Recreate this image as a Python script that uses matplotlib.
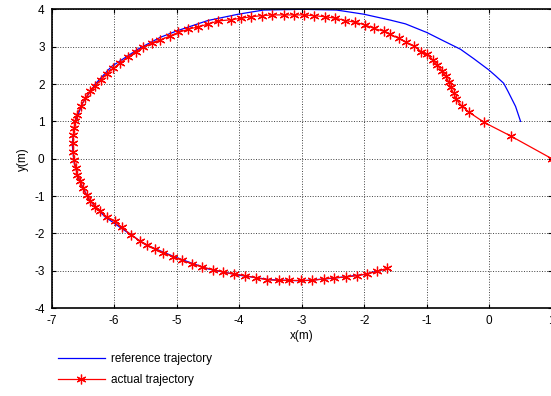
import matplotlib
matplotlib.use("Agg")
import matplotlib.pyplot as plt

plt.rcParams['font.family'] = ['Liberation Sans', 'DejaVu Sans']
plt.rcParams['axes.unicode_minus'] = False

# reference path (x, y in metres)
ref_x = [0.50, 0.42, 0.30, 0.23, 0.10, -0.01, -0.25, -0.46, -0.75, -1.00,
         -1.34, -1.58, -2.01, -2.44, -2.98, -3.61, -4.01, -4.50, -5.00, -5.26,
         -5.60, -6.04, -6.30, -6.50, -6.62, -6.67, -6.64, -6.55, -6.40, -6.15,
         -5.85, -5.50, -5.00, -4.50, -4.00, -3.50, -3.00, -2.50, -2.00, -1.70]
ref_y = [1.00, 1.40, 1.80, 2.02, 2.22, 2.38, 2.68, 2.93, 3.17, 3.38,
         3.61, 3.71, 3.87, 3.98, 4.00, 3.98, 3.87, 3.70, 3.42, 3.25,
         2.95, 2.47, 2.00, 1.50, 1.00, 0.40, -0.10, -0.60, -1.10, -1.55,
         -1.90, -2.30, -2.65, -2.95, -3.12, -3.24, -3.27, -3.20, -3.10, -2.97]

# measured path
act_x = [1.00, 0.34, -0.08, -0.32, -0.44, -0.53, -0.57, -0.62, -0.65, -0.70,
         -0.76, -0.83, -0.90, -1.00, -1.09, -1.21, -1.33, -1.45, -1.58, -1.68,
         -1.85, -1.98, -2.14, -2.30, -2.46, -2.62, -2.81, -2.97, -3.13, -3.29,
         -3.47, -3.64, -3.81, -3.97, -4.13, -4.33, -4.49, -4.65, -4.81, -4.97,
         -5.10, -5.26, -5.40, -5.53, -5.65, -5.77, -5.90, -6.01, -6.12, -6.21,
         -6.30, -6.38, -6.46, -6.53, -6.60, -6.62, -6.64, -6.65, -6.66, -6.65,
         -6.64, -6.61, -6.59, -6.54, -6.50, -6.44, -6.38, -6.30, -6.22, -6.12,
         -5.99, -5.88, -5.73, -5.59, -5.48, -5.34, -5.21, -5.05, -4.92, -4.76,
         -4.60, -4.41, -4.25, -4.09, -3.90, -3.73, -3.56, -3.37, -3.20, -3.01,
         -2.83, -2.65, -2.48, -2.29, -2.11, -1.95, -1.79, -1.63]
act_y = [0.00, 0.61, 0.97, 1.24, 1.41, 1.59, 1.75, 1.91, 2.06, 2.22,
         2.36, 2.50, 2.64, 2.80, 2.87, 3.02, 3.12, 3.22, 3.33, 3.41,
         3.49, 3.58, 3.65, 3.70, 3.76, 3.80, 3.83, 3.85, 3.85, 3.85,
         3.85, 3.83, 3.80, 3.76, 3.72, 3.69, 3.61, 3.53, 3.47, 3.38,
         3.29, 3.18, 3.09, 2.98, 2.87, 2.73, 2.57, 2.42, 2.27, 2.11,
         1.95, 1.80, 1.62, 1.40, 1.17, 1.00, 0.82, 0.64, 0.42, 0.19,
         -0.03, -0.25, -0.43, -0.61, -0.79, -0.97, -1.12, -1.28, -1.41, -1.55,
         -1.68, -1.84, -2.03, -2.20, -2.30, -2.42, -2.52, -2.63, -2.72, -2.81,
         -2.90, -2.97, -3.04, -3.09, -3.13, -3.19, -3.24, -3.26, -3.26, -3.26,
         -3.26, -3.22, -3.19, -3.17, -3.13, -3.08, -3.02, -2.93]

xticks = [-7, -6, -5, -4, -3, -2, -1, 0, 1]
yticks = [-4, -3, -2, -1, 0, 1, 2, 3, 4]

fig = plt.figure(figsize=(5.51, 3.96), dpi=100)
ax = fig.add_axes([0.0935, 0.222, 0.908, 0.7545])

ax.plot(ref_x, ref_y, color='blue', lw=0.9, label='reference trajectory')
ax.plot(act_x, act_y, color='red', lw=0.9, marker=(6, 2, 0), markersize=7,
        markeredgewidth=0.9, label='actual trajectory')

ax.set_xlim(-7, 1)
ax.set_ylim(-4, 4)
ax.set_xticks(xticks)
ax.set_yticks(yticks)
ax.grid(True, color='0.25', linestyle=':', linewidth=0.7)
ax.tick_params(direction='in', length=3, width=0.8, labelsize=8.5,
               top=True, right=True, pad=5)
for sp in ax.spines.values():
    sp.set_linewidth(1.2)

ax.set_xlabel('x(m)', fontsize=8.5, labelpad=2)
ax.set_ylabel('y(m)', fontsize=8.5, labelpad=4)

ax.legend(loc='upper left', bbox_to_anchor=(0.105, 0.108),
          bbox_transform=fig.transFigure, frameon=False, fontsize=8.5,
          handlelength=4.0, handletextpad=0.5, labelspacing=0.75,
          borderpad=0, borderaxespad=0)

fig.savefig('out.png', dpi=100)
